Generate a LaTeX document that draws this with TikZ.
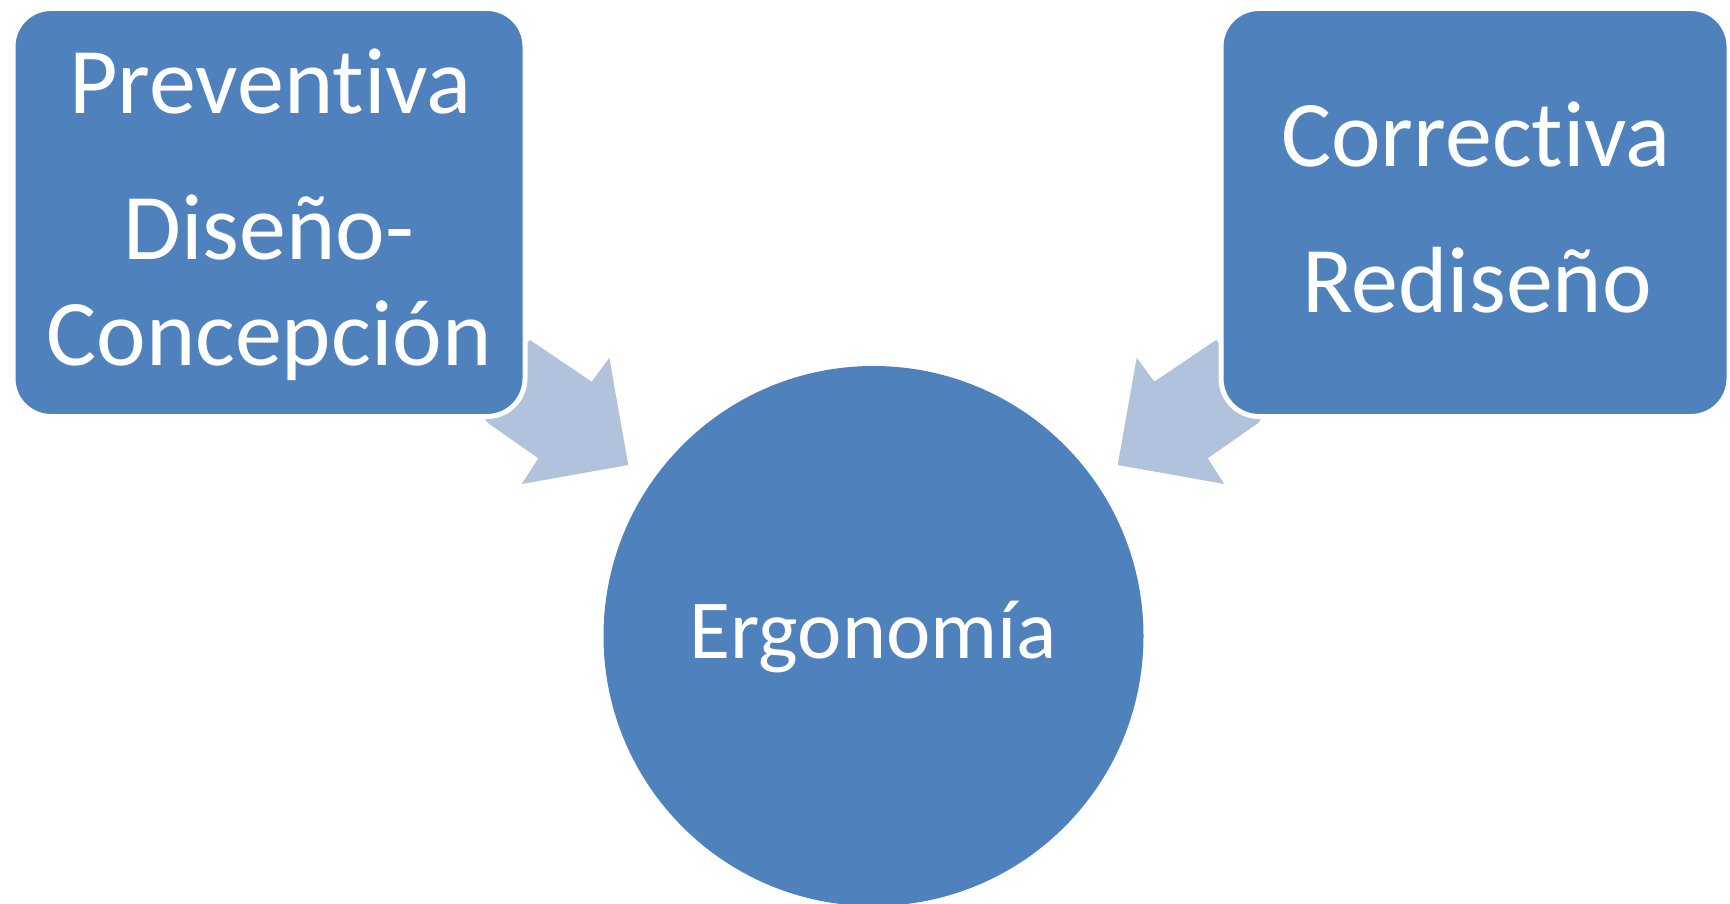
\documentclass[tikz,border=0pt]{standalone}
\usepackage{fontspec}
\setmainfont{Carlito}[Ligatures=CommonOff]
\definecolor{boxblue}{HTML}{4F81BD}
\definecolor{arrowblue}{HTML}{B0C2DC}
\begin{document}
\begin{tikzpicture}[x=1pt,y=-1pt,
  box/.style={fill=boxblue, draw=white, line width=5pt, rounded corners=38pt,
    minimum width=#1, minimum height=408pt, inner sep=0pt},
  hub/.style={circle, fill=boxblue, minimum size=540pt, inner sep=0pt},
  big/.style={text=white, inner sep=0pt, anchor=base, font=\fontsize{94}{106}\selectfont},
  mid/.style={text=white, inner sep=0pt, anchor=base, font=\fontsize{84}{98}\selectfont},
  blockarrow/.style={fill=arrowblue, draw=none}]
\useasboundingbox (0,0) rectangle (1730,904);
% block arrows (behind the boxes)
\coordinate (la) at (470,400);
\fill[blockarrow] (la) -- (530,340) -- (591.7,381.7) -- (609.3,357.7) -- (628.3,465)
  -- (521.7,484) -- (538.3,458.3) -- (488.3,423.3) -- cycle;
\coordinate (ra) at (1276,400);
\fill[blockarrow] (ra) -- (1216,340) -- (1154.3,381.7) -- (1136.7,357.7) -- (1117.7,465)
  -- (1224.3,484) -- (1207.7,458.3) -- (1257.7,423.3) -- cycle;
% boxes
\node[box=512pt] (prev) at (269,212.5) {};
\node[box=508pt] (corr) at (1475,212.5) {};
% hub
\node[hub] (ergo) at (873.5,636) {};
% texts
\node[big] (t1) at (270.5,113.6) {Preventiva};
\node[big] (t2) at (269,259) {Diseño-};
\node[big] (t3) at (269,365) {Concepción};
\node[big] (t4) at (1476,166.6) {Correctiva};
\node[big] (t5) at (1477,312) {Rediseño};
\node[mid] (t6) at (873.5,658.7) {Ergonomía};
\end{tikzpicture}
\end{document}
